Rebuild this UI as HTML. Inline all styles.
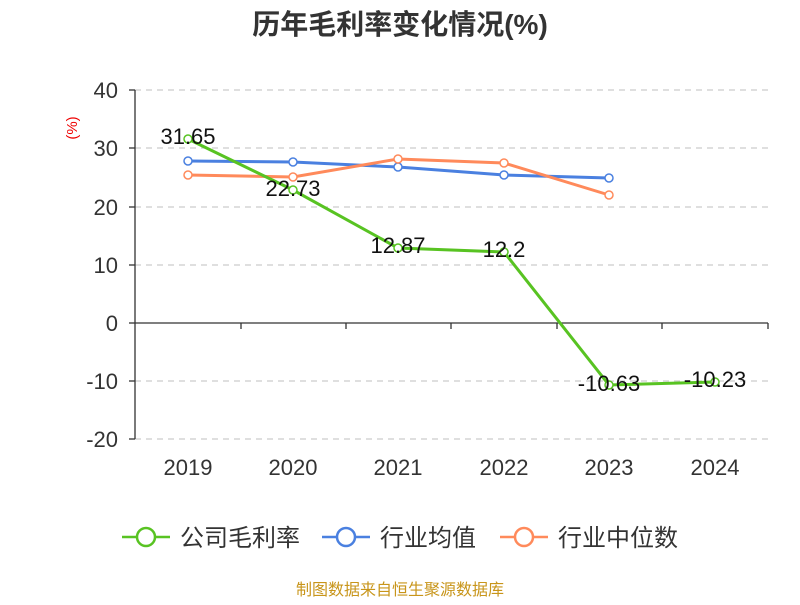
<!DOCTYPE html>
<html><head><meta charset="utf-8"><style>
body{margin:0;background:#fff;}
text{font-family:"Liberation Sans","Noto Sans CJK SC",sans-serif;}
</style></head><body>
<svg width="800" height="600" xmlns="http://www.w3.org/2000/svg">
<text x="400" y="34" text-anchor="middle" font-size="28" font-weight="bold" fill="#333">历年毛利率变化情况(%)</text>
<text x="77" y="128" font-size="15" fill="#e00" transform="rotate(-90 77 128)" text-anchor="middle">(%)</text>
<g stroke="#ccc" stroke-dasharray="6,5" stroke-width="1.3">
<line x1="135" y1="90" x2="768" y2="90"/><line x1="135" y1="148" x2="768" y2="148"/>
<line x1="135" y1="207" x2="768" y2="207"/><line x1="135" y1="265" x2="768" y2="265"/>
<line x1="135" y1="381" x2="768" y2="381"/><line x1="135" y1="439" x2="768" y2="439"/>
</g>
<line x1="135" y1="90" x2="135" y2="439" stroke="#333" stroke-width="1.3"/>
<line x1="135" y1="323" x2="768" y2="323" stroke="#333" stroke-width="1.3"/>
<g stroke="#333" stroke-width="1.3">
<line x1="129" y1="90" x2="135" y2="90"/><line x1="129" y1="148" x2="135" y2="148"/><line x1="129" y1="207" x2="135" y2="207"/><line x1="129" y1="265" x2="135" y2="265"/><line x1="129" y1="323" x2="135" y2="323"/><line x1="129" y1="381" x2="135" y2="381"/><line x1="129" y1="439" x2="135" y2="439"/>
<line x1="241" y1="323" x2="241" y2="329"/><line x1="346" y1="323" x2="346" y2="329"/><line x1="451" y1="323" x2="451" y2="329"/><line x1="557" y1="323" x2="557" y2="329"/><line x1="662" y1="323" x2="662" y2="329"/><line x1="768" y1="323" x2="768" y2="329"/>
</g>
<g font-size="22" fill="#333" text-anchor="end">
<text x="118" y="98">40</text><text x="118" y="156">30</text><text x="118" y="215">20</text><text x="118" y="273">10</text><text x="118" y="331">0</text><text x="118" y="389">-10</text><text x="118" y="447">-20</text>
</g>
<g font-size="22" fill="#333" text-anchor="middle">
<text x="188" y="475">2019</text><text x="293" y="475">2020</text><text x="398" y="475">2021</text><text x="504" y="475">2022</text><text x="609" y="475">2023</text><text x="715" y="475">2024</text>
</g>
<polyline fill="none" stroke="#4a80e0" stroke-width="3" points="188,161 293,162 398,167 504,175 609,178"/>
<polyline fill="none" stroke="#ff8a5b" stroke-width="3" points="188,175 293,177 398,159 504,163 609,195"/>
<polyline fill="none" stroke="#58c322" stroke-width="3" points="188,139 293,190 398,248 504,252 609,385 715,382"/>
<g fill="#fff" stroke-width="1.5">
<g stroke="#4a80e0"><circle cx="188" cy="161" r="4"/><circle cx="293" cy="162" r="4"/><circle cx="398" cy="167" r="4"/><circle cx="504" cy="175" r="4"/><circle cx="609" cy="178" r="4"/></g>
<g stroke="#ff8a5b"><circle cx="188" cy="175" r="4"/><circle cx="293" cy="177" r="4"/><circle cx="398" cy="159" r="4"/><circle cx="504" cy="163" r="4"/><circle cx="609" cy="195" r="4"/></g>
<g stroke="#58c322"><circle cx="188" cy="139" r="4"/><circle cx="293" cy="190" r="4"/><circle cx="398" cy="248" r="4"/><circle cx="504" cy="252" r="4"/><circle cx="609" cy="385" r="4"/><circle cx="715" cy="382" r="4"/></g>
</g>
<g font-size="22" fill="#111" text-anchor="middle">
<text x="188" y="144">31.65</text><text x="293" y="196">22.73</text><text x="398" y="253">12.87</text><text x="504" y="257">12.2</text><text x="609" y="391">-10.63</text><text x="715" y="387">-10.23</text>
</g>
<g stroke-width="2.5" fill="#fff">
<line x1="122" y1="537" x2="170" y2="537" stroke="#58c322"/><circle cx="146" cy="537" r="9" stroke="#58c322"/>
<line x1="322" y1="537" x2="370" y2="537" stroke="#4a80e0"/><circle cx="346" cy="537" r="9" stroke="#4a80e0"/>
<line x1="500" y1="537" x2="548" y2="537" stroke="#ff8a5b"/><circle cx="524" cy="537" r="9" stroke="#ff8a5b"/>
</g>
<g font-size="24" fill="#333">
<text x="180" y="546">公司毛利率</text><text x="380" y="546">行业均值</text><text x="558" y="546">行业中位数</text>
</g>
<text x="400" y="595" text-anchor="middle" font-size="16" fill="#c8951a">制图数据来自恒生聚源数据库</text>
</svg>
</body></html>
